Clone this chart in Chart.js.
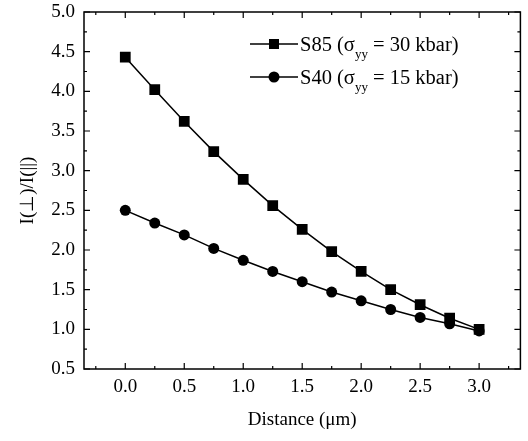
<!DOCTYPE html>
<html>
<head>
<meta charset="utf-8">
<script src="https://cdn.jsdelivr.net/npm/chart.js@4/dist/chart.umd.min.js"></script>
<style>
  html, body { margin: 0; padding: 0; background: #fff; }
  #wrap { position: relative; width: 528px; height: 441px; }
  #legend { position: absolute; left: 250px; top: 30px; font-family: "Liberation Serif", serif; font-size: 20.5px; color: #000; }
  .row { position: relative; height: 33px; line-height: 28px; white-space: nowrap; }
  .row svg { position: absolute; left: 0; top: 3px; }
  .row span { position: absolute; left: 50px; top: 0; }
  sub { font-size: 13px; vertical-align: -7px; }
</style>
</head>
<body>
<div id="wrap">
  <canvas id="c" width="528" height="441"></canvas>
  <div id="legend">
    <div class="row">
      <svg width="48" height="22"><line x1="0" y1="11" x2="48" y2="11" stroke="#000" stroke-width="1.5"/><rect x="19" y="6" width="10" height="10" fill="#000"/></svg>
      <span>S85 (σ<sub>yy</sub> = 30 kbar)</span>
    </div>
    <div class="row">
      <svg width="48" height="22"><line x1="0" y1="11" x2="48" y2="11" stroke="#000" stroke-width="1.5"/><circle cx="24" cy="11" r="5.5" fill="#000"/></svg>
      <span>S40 (σ<sub>yy</sub> = 15 kbar)</span>
    </div>
  </div>
</div>
<script>
// ---------- DATA ----------
const distance = [0, 0.25, 0.5, 0.75, 1.0, 1.25, 1.5, 1.75, 2.0, 2.25, 2.5, 2.75, 3.0];
const s85 = [4.43, 4.02, 3.62, 3.24, 2.89, 2.56, 2.26, 1.98, 1.73, 1.50, 1.31, 1.14, 1.00];
const s40 = [2.50, 2.34, 2.19, 2.02, 1.87, 1.73, 1.60, 1.47, 1.36, 1.25, 1.15, 1.07, 0.98];

const FONT = "'Liberation Serif', 'Times New Roman', serif";

// inward ticks on all four sides + frame
const frameTicks = {
  id: "frameTicks",
  afterDraw(chart) {
    const { ctx, chartArea: a, scales } = chart;
    const x = scales.x, y = scales.y;
    ctx.save();
    ctx.strokeStyle = "#000";
    ctx.lineWidth = 1.5;
    ctx.strokeRect(a.left, a.top, a.right - a.left, a.bottom - a.top);
    ctx.lineWidth = 1.2;
    ctx.beginPath();
    for (let v = -0.25; v <= 3.26; v += 0.25) {
      const px = x.getPixelForValue(v);
      const major = Math.abs(v * 2 - Math.round(v * 2)) < 1e-6;
      const len = major ? 6 : 3;
      ctx.moveTo(px, a.bottom); ctx.lineTo(px, a.bottom - len);
      ctx.moveTo(px, a.top); ctx.lineTo(px, a.top + len);
    }
    for (let v = 0.5; v <= 5.01; v += 0.25) {
      const py = y.getPixelForValue(v);
      const major = Math.abs(v * 2 - Math.round(v * 2)) < 1e-6;
      const len = major ? 6 : 3;
      ctx.moveTo(a.left, py); ctx.lineTo(a.left + len, py);
      ctx.moveTo(a.right, py); ctx.lineTo(a.right - len, py);
    }
    ctx.stroke();
    ctx.restore();
  }
};

const pts = (ys) => distance.map((d, i) => ({ x: d, y: ys[i] }));

new Chart(document.getElementById("c"), {
  type: "line",
  data: {
    datasets: [
      {
        label: "S85",
        data: pts(s85),
        borderColor: "#000",
        backgroundColor: "#000",
        borderWidth: 1.5,
        pointStyle: "rect",
        pointRadius: 7.6,
        pointBorderWidth: 0,
        tension: 0,
      },
      {
        label: "S40",
        data: pts(s40),
        borderColor: "#000",
        backgroundColor: "#000",
        borderWidth: 1.5,
        pointStyle: "circle",
        pointRadius: 5.5,
        pointBorderWidth: 0,
        tension: 0,
      },
    ],
  },
  options: {
    responsive: false,
    animation: false,
    layout: { padding: { left: 0, top: 12, right: 4, bottom: 0 } },
    plugins: { legend: { display: false }, tooltip: { enabled: false } },
    scales: {
      x: {
        type: "linear",
        min: -0.35,
        max: 3.35,
        grid: { display: false, drawTicks: false },
        border: { display: false },
        ticks: {
          stepSize: 0.5,
          includeBounds: false,
          color: "#000",
          padding: 7,
          font: { family: FONT, size: 19 },
          callback: (v) => Number(v).toFixed(1),
        },
        title: {
          display: true,
          text: "Distance (μm)",
          color: "#000",
          font: { family: FONT, size: 19 },
          padding: { top: 0, bottom: 10 },
        },
        afterFit: (s) => { s.height = 72; s.paddingLeft = 0; s.paddingRight = 0; },
      },
      y: {
        min: 0.5,
        max: 5.0,
        grid: { display: false, drawTicks: false },
        border: { display: false },
        ticks: {
          stepSize: 0.5,
          color: "#000",
          padding: 9,
          font: { family: FONT, size: 19 },
          callback: (v) => Number(v).toFixed(1),
        },
        title: {
          display: true,
          text: "I(⊥)/I(||)",
          color: "#000",
          font: { family: FONT, size: 19 },
          padding: { top: 17, bottom: 0 },
        },
        afterFit: (s) => { s.width = 84; s.paddingTop = 0; s.paddingBottom = 0; },
      },
    },
  },
  plugins: [frameTicks],
});
</script>
</body>
</html>
